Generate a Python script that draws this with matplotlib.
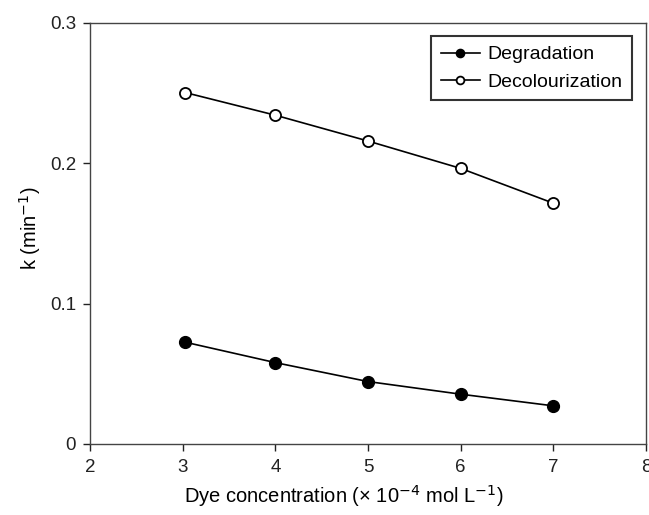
import matplotlib.pyplot as plt

plt.rcParams['font.family'] = ['Liberation Sans', 'DejaVu Sans']

# Datos
concentracion = [3.03, 4, 5, 6, 7]
degradacion = [0.0725, 0.058, 0.0445, 0.0355, 0.0272]
decoloracion = [0.2504, 0.2343, 0.2159, 0.1964, 0.1716]

x_ticks = [2, 3, 4, 5, 6, 7, 8]
y_ticks = [0, 0.1, 0.2, 0.3]
y_labels = ['0', '0.1', '0.2', '0.3']

W, H = 649, 515
left, right, top, bottom = 90, 646, 23, 444
aw, ah = right - left, bottom - top
fig = plt.figure(figsize=(W / 100, H / 100), dpi=100)
ax = fig.add_axes([left / W, 1 - bottom / H, aw / W, ah / H])

ax.plot(concentracion, degradacion, color='black', lw=1.2, marker='o',
        markersize=8.5, markerfacecolor='black', markeredgecolor='black',
        label='Degradation')
ax.plot(concentracion, decoloracion, color='black', lw=1.2, marker='o',
        markersize=8, markerfacecolor='white', markeredgecolor='black',
        markeredgewidth=1.3, label='Decolourization')

ax.set_xlim(2, 8)
ax.set_ylim(0, 0.3)
ax.set_xticks(x_ticks)
ax.set_yticks(y_ticks)
ax.set_yticklabels(y_labels)
ax.tick_params(direction='out', length=5, width=1, labelsize=13.5, colors='#222222')
ax.tick_params(axis='x', pad=6)
ax.tick_params(axis='y', pad=5)

for s in ax.spines.values():
    s.set_color('#444444')
    s.set_linewidth(1)

ax.set_xlabel('Dye concentration (\u00d7 10$^{-4}$ mol L$^{-1}$)', fontsize=14.5)
ax.xaxis.set_label_coords((344 - left) / aw, -(496 - bottom) / ah)
ax.xaxis.label.set_verticalalignment('center')
ax.set_ylabel('k (min$^{-1}$)', fontsize=14.5)
ax.yaxis.set_label_coords(-(left - 30) / aw, (bottom - 228) / ah)
ax.yaxis.label.set_verticalalignment('center')

leg = ax.legend(loc='upper left', bbox_to_anchor=((431 - left) / aw, 1 - (36 - top) / ah),
                fontsize=14, frameon=True, fancybox=False, markerscale=0.7,
                handlelength=2.0, handletextpad=0.4, borderpad=0.5,
                labelspacing=0.5, borderaxespad=0)
leg.get_frame().set_edgecolor('black')
leg.get_frame().set_linewidth(1.5)

fig.savefig('out.png', dpi=100)
